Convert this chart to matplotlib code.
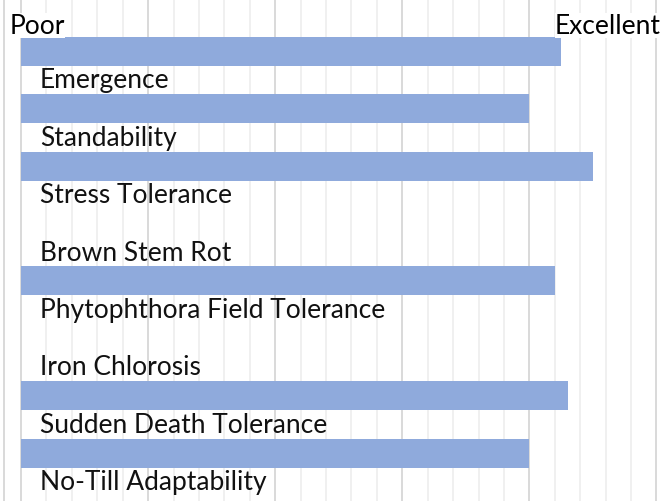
import matplotlib
matplotlib.use("Agg")
import matplotlib.pyplot as plt
from matplotlib.ticker import MultipleLocator

traits = ["Emergence", "Standability", "Stress Tolerance", "Brown Stem Rot",
          "Phytophthora Field Tolerance", "Iron Chlorosis",
          "Sudden Death Tolerance", "No-Till Adaptability"]
scores = [8.5, 8.0, 9.0, 0, 8.4, 0, 8.6, 8.0]
scale_labels = ["Poor", "Excellent"]

bar_color = "#8faadc"
plt.rcParams["font.family"] = ["Lato", "DejaVu Sans"]

fig = plt.figure(figsize=(6.66, 5.02), dpi=100)
ax = fig.add_axes([4.3 / 666, 0, 661.7 / 666, 1])

rows = list(range(len(traits)))
ax.barh(rows, scores, height=0.505, color=bar_color, zorder=3)

for i, name in enumerate(traits):
    ax.text(0.3, i + 0.628, name, fontsize=19, ha="left", va="baseline",
            color="#111111", zorder=4)

ax.set_xlim(-0.263, 10.15)
ax.set_ylim(7.83, -0.908)

ax.xaxis.set_major_locator(MultipleLocator(2))
ax.xaxis.set_minor_locator(MultipleLocator(0.4))
ax.grid(True, which="major", axis="x", color="#d9d9d9", linewidth=1.4, zorder=0)
ax.grid(True, which="minor", axis="x", color="#f0f0f0", linewidth=1.4, zorder=0)
ax.set_axisbelow(True)
ax.tick_params(which="both", bottom=False, left=False, labelbottom=False, labelleft=False)
for side in ["top", "right", "bottom"]:
    ax.spines[side].set_visible(False)
ax.spines["left"].set_color("#d9d9d9")
ax.spines["left"].set_linewidth(1.4)

fig.text(10 / 666, 1 - 34.3 / 502, scale_labels[0], fontsize=19, ha="left",
         va="baseline", color="#000000",
         bbox=dict(facecolor="white", edgecolor="none", pad=0))
fig.text(661 / 666, 1 - 34.3 / 502, scale_labels[1], fontsize=19, ha="right",
         va="baseline", color="#000000",
         bbox=dict(facecolor="white", edgecolor="none", pad=0))

fig.savefig("out.png", dpi=100)
